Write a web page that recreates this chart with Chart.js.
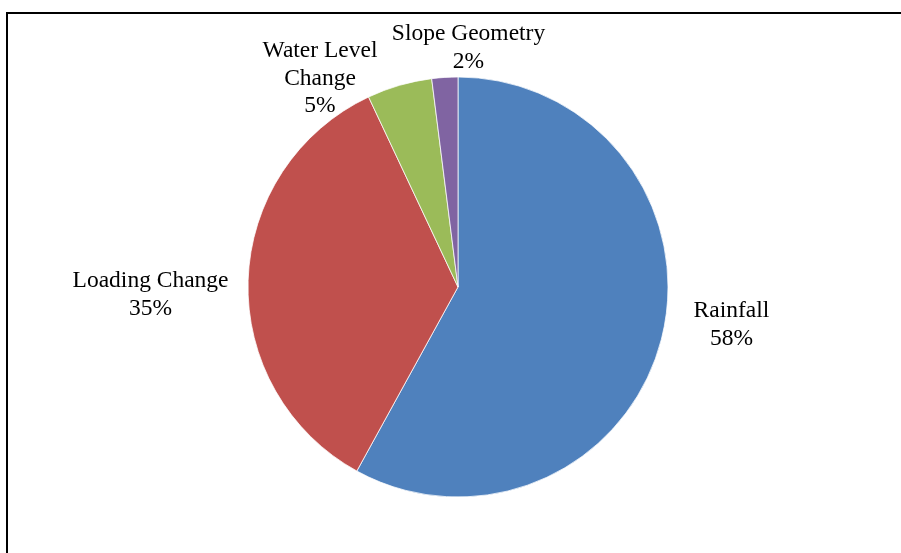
<!DOCTYPE html>
<html>
<head>
<meta charset="utf-8">
<script src="https://cdn.jsdelivr.net/npm/chart.js@4.4.0/dist/chart.umd.min.js"></script>
<style>
  html, body { margin: 0; padding: 0; background: #fff; }
  #wrap { position: relative; width: 901px; height: 553px; }
  #frame {
    position: absolute; left: 6px; top: 12px; right: -10px; bottom: -10px;
    border-left: 2px solid #000; border-top: 2px solid #000;
    pointer-events: none;
  }
</style>
</head>
<body>
<div id="wrap">
  <canvas id="pie-canvas"></canvas>
  <div id="frame"></div>
</div>
<script>
// データ
const categories = ['Rainfall', 'Loading Change', 'Water Level Change', 'Slope Geometry'];
const categoryLines = [['Rainfall'], ['Loading Change'], ['Water Level', 'Change'], ['Slope Geometry']];
const shares = [58, 35, 5, 2];
const sliceColors = ['#4F81BD', '#C0504D', '#9BBB59', '#8064A2'];

// ラベル位置 (半径に対する相対位置, 1行目のベースライン)
const labelOffsets = [
    [1.302, 0.143],
    [-1.464, 0.0],
    [-0.657, -1.095],
    [0.05, -1.176]
];

const pieLabels = {
    id: 'pieLabels',
    afterDraw(chart) {
        const ctx = chart.ctx;
        const meta = chart.getDatasetMeta(0);
        const total = shares.reduce((a, b) => a + b, 0);
        ctx.save();
        ctx.fillStyle = '#000';
        ctx.font = '23.5px "Liberation Serif", "Times New Roman", serif';
        ctx.textAlign = 'center';
        ctx.textBaseline = 'alphabetic';
        meta.data.forEach(function(arc, i) {
            const r = arc.outerRadius;
            const x = arc.x + labelOffsets[i][0] * r;
            let y = arc.y + labelOffsets[i][1] * r;
            const lines = categoryLines[i].concat([Math.round(shares[i] / total * 100) + '%']);
            lines.forEach(function(line) {
                ctx.fillText(line, x, y);
                y += 27.5;
            });
        });
        ctx.restore();
    }
};

let ctx = document.getElementById('pie-canvas').getContext('2d');
let chart = new Chart(ctx, {
    type: 'pie',
    data: {
        labels: categories,
        datasets: [{
            data: shares,
            backgroundColor: sliceColors,
            borderColor: '#ffffff',
            borderWidth: 0.75
        }]
    },
    options: {
        responsive: true,
        maintainAspectRatio: false,
        animation: false,
        radius: 210,
        layout: { padding: { top: 77, bottom: 56, left: 15, right: 0 } },
        plugins: {
            legend: { display: false },
            tooltip: { enabled: false }
        }
    },
    plugins: [pieLabels]
});
</script>
</body>
</html>
